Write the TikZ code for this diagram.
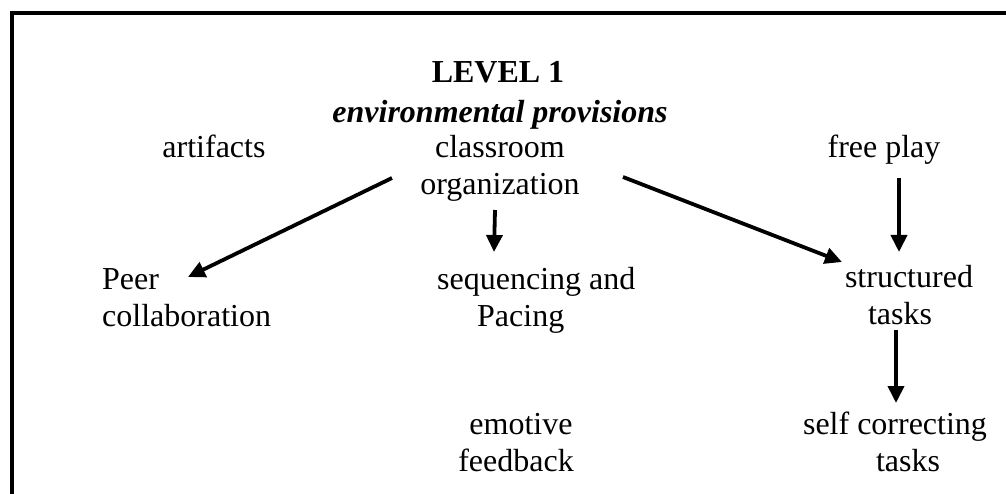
\documentclass[tikz,border=0pt]{standalone}
\usepackage{fontspec}
\setmainfont{Liberation Serif}
\usetikzlibrary{arrows.meta}
\begin{document}
\begin{tikzpicture}[x=1pt,y=-1pt,
  lbl/.style={font=\fontsize{32}{37}\selectfont, inner sep=0pt, align=center, anchor=base},
  lbll/.style={lbl, align=left, anchor=base west},
  arr/.style={line width=3.8pt, -{Triangle[length=17pt,width=16pt]}}]
\useasboundingbox (0,0) rectangle (1006,494);
% open frame: left and top edges
\draw[line width=4pt, line join=miter] (11.5,494) -- (11.5,13.5) -- (1006,13.5);

% labels (multi-line nodes sit on the baseline of their last line)
\node[lbl, font=\fontsize{32}{37}\selectfont\bfseries] (lvl) at (498,83) {LEVEL 1};
\node[lbl, font=\fontsize{32}{37}\selectfont\bfseries\itshape] (env) at (500,123) {environmental provisions};
\node[lbl] (art) at (214,158) {artifacts};
\node[lbl] (org) at (500,195) {classroom\\organization};
\node[lbl] (free) at (884,158) {free play};
\node[lbll] (peer) at (102,326) {Peer\\collaboration};
\node[lbll] (seq) at (437,326) {sequencing and\\\hspace*{40pt}Pacing};
\node[lbl] (struct) at (909,324) {structured\\\hspace*{-18pt}tasks};
\node[lbl] (emo) at (516,471) {\hspace*{10pt}emotive\\feedback};
\node[lbl] (selfc) at (895,471) {self correcting\\\hspace*{26pt}tasks};

% connectors
\draw[arr] ([shift={(-108,-17)}]org.base) -- ([shift={(86,-49)}]peer.base west);
\draw[arr] ([shift={(-5,15)}]org.base) -- ([shift={(57,-74)}]seq.base west);
\draw[arr] ([shift={(123,-18)}]org.base) -- ([shift={(-67,-62)}]struct.base);
\draw[arr] ([shift={(15,20)}]free.base) -- ([shift={(-10,-72)}]struct.base);
\draw[arr] ([shift={(-13,6)}]struct.base) -- ([shift={(1,-68)}]selfc.base);
\end{tikzpicture}
\end{document}
